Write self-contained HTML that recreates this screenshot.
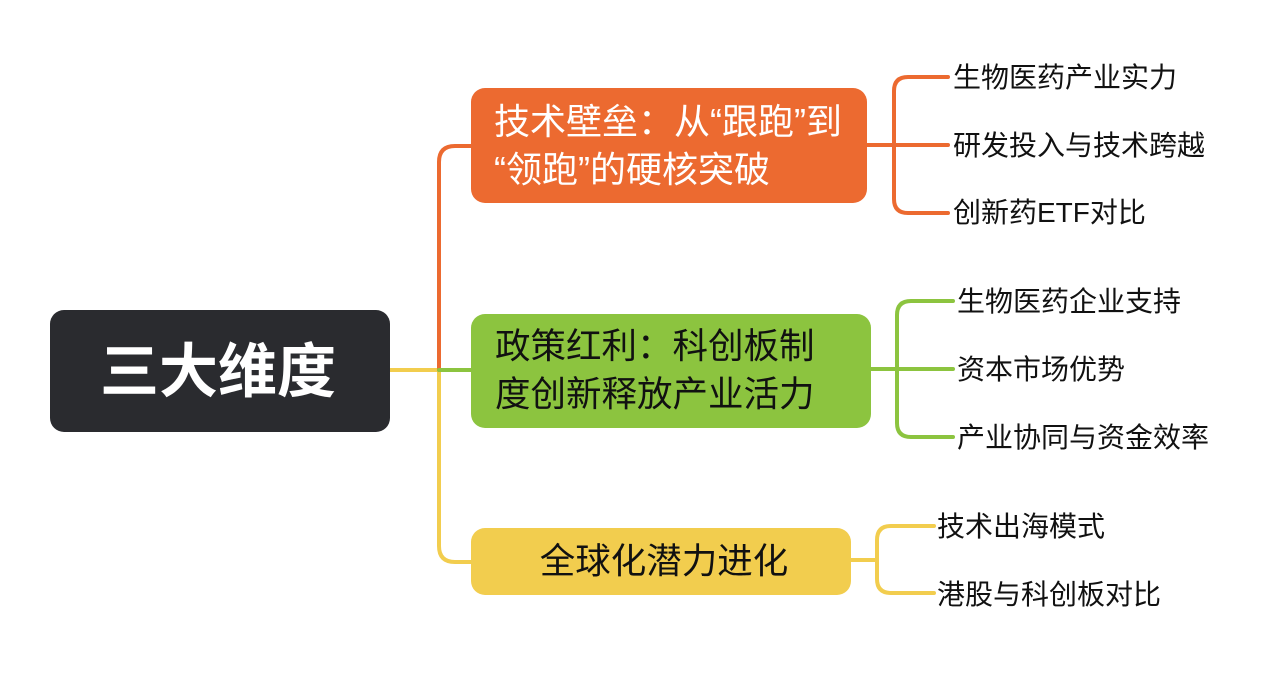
<!DOCTYPE html>
<html><head><meta charset="utf-8"><style>
html,body{margin:0;padding:0;background:#fff;}
body{width:1268px;height:674px;overflow:hidden;}
svg text{font-family:"Liberation Sans","Noto Sans CJK SC",sans-serif;}
</style></head><body>
<svg width="1268" height="674" viewBox="0 0 1268 674" xmlns="http://www.w3.org/2000/svg">
<g fill="none" stroke-width="4" stroke-linecap="round">
<path d="M390 370 H439" stroke="#f2cd4e"/>
<path d="M439 370 V546 Q439 562 455 562 H472" stroke="#f2cd4e"/>
<path d="M439 370 V162 Q439 146 455 146 H472" stroke="#ec6a30"/>
<path d="M439 370 H472" stroke="#8cc43f"/>
<path d="M867 145 H894" stroke="#ec6a30"/>
<path d="M948 77 H908 Q894 77 894 91 V199 Q894 213 908 213 H948 M894 145 H948" stroke="#ec6a30"/>
<path d="M871 369 H897" stroke="#8cc43f"/>
<path d="M953 301 H911 Q897 301 897 315 V423 Q897 437 911 437 H953 M897 369 H953" stroke="#8cc43f"/>
<path d="M851 560 H877" stroke="#f2cd4e"/>
<path d="M934 526 H891 Q877 526 877 540 V579 Q877 593 891 593 H934" stroke="#f2cd4e"/>
</g>
<rect x="50" y="310" width="340" height="122" rx="14" fill="#2a2b2f"/>
<text x="218" y="392" font-size="59" font-weight="bold" fill="#fff" text-anchor="middle">三大维度</text>
<rect x="471" y="88" width="396" height="115" rx="14" fill="#ec6a30"/>
<text x="494" y="134" font-size="36" fill="#fff">技术壁垒：从“跟跑”到</text>
<text x="494" y="182" font-size="36" fill="#fff">“领跑”的硬核突破</text>
<rect x="471" y="314" width="400" height="114" rx="14" fill="#8cc43f"/>
<text x="495" y="358" font-size="35.5" fill="#111">政策红利：科创板制</text>
<text x="495" y="406" font-size="35.5" fill="#111">度创新释放产业活力</text>
<rect x="471" y="528" width="380" height="67" rx="14" fill="#f2cd4e"/>
<text x="664" y="573" font-size="35.5" fill="#111" text-anchor="middle">全球化潜力进化</text>
<g font-size="28" fill="#111">
<text x="953" y="87">生物医药产业实力</text>
<text x="953" y="155">研发投入与技术跨越</text>
<text x="953" y="222">创新药ETF对比</text>
<text x="957" y="311">生物医药企业支持</text>
<text x="957" y="379">资本市场优势</text>
<text x="957" y="447">产业协同与资金效率</text>
<text x="937" y="536">技术出海模式</text>
<text x="937" y="604">港股与科创板对比</text>
</g>
</svg>
</body></html>
